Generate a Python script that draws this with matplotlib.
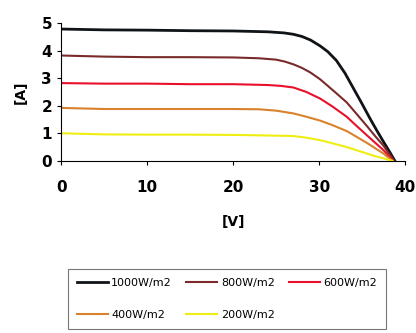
import matplotlib
matplotlib.use("Agg")
import matplotlib.pyplot as plt

volts_1000 = [0, 5, 10, 15, 20, 24, 25.9, 27, 28, 29, 30.1, 31, 32, 33, 34, 35, 35.9, 36.7, 37.5, 38.2, 38.8]
amps_1000 = [4.78, 4.75, 4.74, 4.72, 4.71, 4.68, 4.64, 4.59, 4.51, 4.38, 4.17, 3.96, 3.64, 3.18, 2.62, 2.06, 1.54, 1.1, 0.68, 0.32, 0.0]

volts_800 = [0, 5, 10, 15, 20, 23, 25, 26, 27, 28, 29, 30.1, 31, 32, 33.2, 34.3, 35.5, 36.5, 37.5, 38.7]
amps_800 = [3.82, 3.78, 3.76, 3.76, 3.75, 3.72, 3.67, 3.6, 3.5, 3.37, 3.2, 2.96, 2.72, 2.45, 2.12, 1.72, 1.28, 0.9, 0.54, 0.0]

volts_600 = [0, 5, 10, 15, 20, 24, 25.5, 27, 28.5, 30.1, 31.5, 33.2, 34.3, 35.5, 36.5, 37.5, 38.6]
amps_600 = [2.82, 2.8, 2.8, 2.78, 2.78, 2.75, 2.72, 2.66, 2.5, 2.26, 1.98, 1.6, 1.28, 0.94, 0.66, 0.38, 0.0]

volts_400 = [0, 5, 10, 15, 20, 23, 25, 27, 28.5, 30.1, 31.5, 33.2, 34.3, 35.5, 36.5, 37.5, 38.5]
amps_400 = [1.92, 1.88, 1.88, 1.88, 1.88, 1.87, 1.82, 1.72, 1.6, 1.46, 1.3, 1.08, 0.88, 0.66, 0.46, 0.26, 0.0]

volts_200 = [0, 5, 10, 15, 20, 24, 27, 28.5, 30.1, 31.5, 33.2, 34.3, 35.5, 36.5, 37.5, 38.5]
amps_200 = [1.0, 0.96, 0.95, 0.95, 0.94, 0.92, 0.9, 0.84, 0.75, 0.64, 0.5, 0.39, 0.27, 0.17, 0.09, 0.0]

labels = ["1000W/m2", "800W/m2", "600W/m2", "400W/m2", "200W/m2"]
colors = ["#101418", "#7a2a2a", "#e8102a", "#d9822b", "#eeee10"]

fig = plt.figure(figsize=(4.16, 3.33), dpi=100)
ax = fig.add_axes([0.147, 0.517, 0.827, 0.414])

series = [(volts_1000, amps_1000), (volts_800, amps_800), (volts_600, amps_600),
          (volts_400, amps_400), (volts_200, amps_200)]
widths = [2.0, 1.5, 1.5, 1.5, 1.5]
lines = []
for (v, a), lab, col, w in zip(series, labels, colors, widths):
    ln, = ax.plot(v, a, color=col, lw=w, label=lab)
    lines.append(ln)

ax.set_xlim(0, 40)
ax.set_ylim(0, 5)
ax.set_xticks([0, 10, 20, 30, 40])
ax.set_yticks([0, 1, 2, 3, 4, 5])
ax.spines["top"].set_visible(False)
ax.spines["right"].set_visible(False)
ax.tick_params(labelsize=11, length=3, direction="out")
ax.tick_params(axis="x", pad=11)
for t in ax.get_xticklabels() + ax.get_yticklabels():
    t.set_fontweight("bold")
ax.set_xlabel("[V]", fontsize=10, fontweight="bold", labelpad=14)
ax.set_ylabel("[A]", fontsize=10, fontweight="bold", labelpad=10)

# legend is filled column by column, so reorder to get rows 1000/800/600 then 400/200
order = [0, 3, 1, 4, 2]
leg = fig.legend([lines[i] for i in order], [labels[i] for i in order],
                 loc="upper left", bbox_to_anchor=(0.163, 0.192),
                 ncol=3, fontsize=8, frameon=True, fancybox=False,
                 handlelength=2.8, handletextpad=0.3, columnspacing=1.3,
                 labelspacing=2.0, borderpad=0.8, borderaxespad=0)
leg.get_frame().set_edgecolor("#555555")
leg.get_frame().set_linewidth(0.8)

fig.savefig("out.png", dpi=100)
